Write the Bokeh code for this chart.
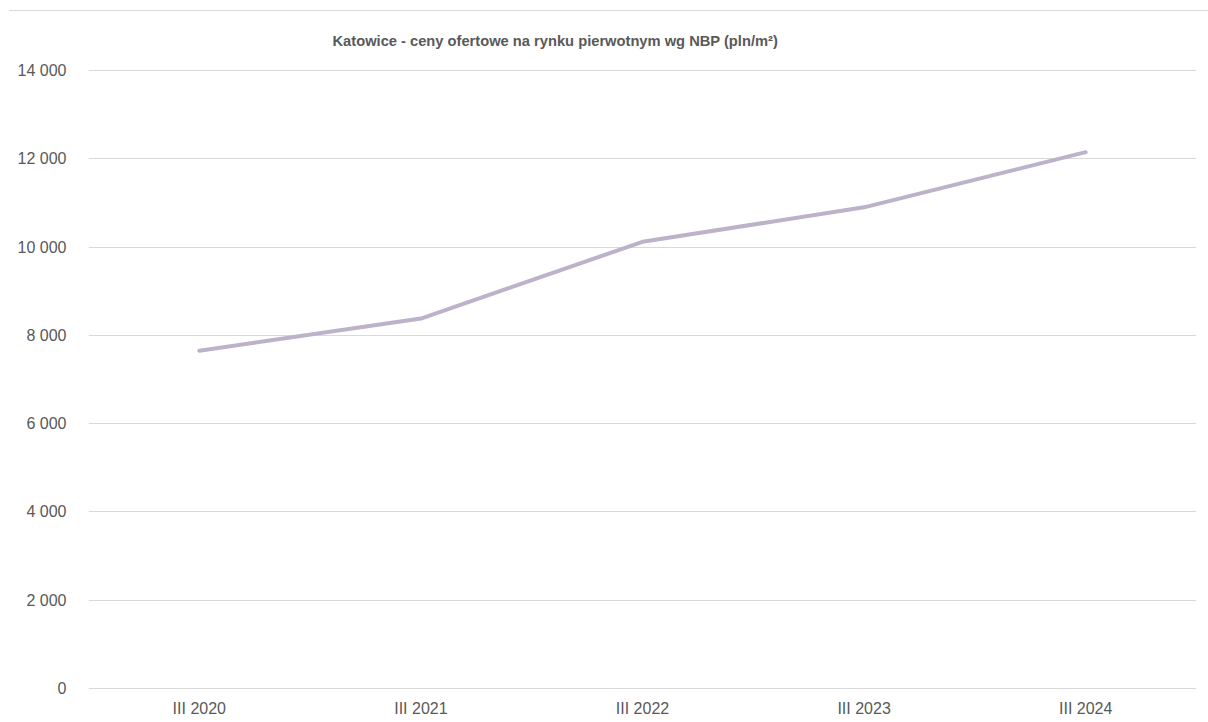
from bokeh.plotting import figure
from bokeh.models import FixedTicker, Range1d, FactorRange, Title, Div
from bokeh.layouts import column
from bokeh.embed import file_html
from bokeh.resources import INLINE

# Katowice, primary market asking prices (NBP), PLN per m²
periods = ["III 2020", "III 2021", "III 2022", "III 2023", "III 2024"]
price_per_m2 = [7650, 8380, 10120, 10900, 12150]

y_ticks = [0, 2000, 4000, 6000, 8000, 10000, 12000, 14000]
y_tick_labels = ["0", "2 000", "4 000", "6 000", "8 000", "10 000", "12 000", "14 000"]

title_text = "Katowice - ceny ofertowe na rynku pierwotnym wg NBP (pln/m²)"

FONT = "Liberation Sans"
TEXT_GREY = "#595959"
GRID_GREY = "#d9d9d9"
LINE_COLOR = "#bcb2c9"

p = figure(
    width=1208, height=711,
    x_range=FactorRange(*periods, range_padding=0),
    y_range=Range1d(-68, 14068),
    output_backend="svg", toolbar_location=None,
    min_border_left=88, min_border_right=12,
    min_border_top=56, min_border_bottom=31,
    outline_line_color=None,
    background_fill_color="white", border_fill_color="white",
)

p.add_layout(Title(
    text=title_text, align="left", offset=244, standoff=37,
    text_font=FONT, text_font_size="14.7px", text_font_style="bold",
    text_color=TEXT_GREY,
), "above")

p.line(periods, price_per_m2, line_color=LINE_COLOR, line_width=4,
       line_cap="round", line_join="round")

p.yaxis.ticker = FixedTicker(ticks=y_ticks)
p.yaxis.major_label_overrides = dict(zip(y_ticks, y_tick_labels))

for ax in (p.xaxis[0], p.yaxis[0]):
    ax.axis_line_color = None
    ax.major_tick_line_color = None
    ax.minor_tick_line_color = None
    ax.major_label_text_font = FONT
    ax.major_label_text_font_size = "16px"
    ax.major_label_text_color = TEXT_GREY

p.yaxis.major_label_standoff = 16
p.xaxis.major_label_standoff = 2

p.xgrid.grid_line_color = None
p.ygrid.grid_line_color = GRID_GREY
p.ygrid.grid_line_width = 1

top_rule = Div(text="", width=1199, height=1, margin=(10, 0, 0, 9),
               styles={"background-color": GRID_GREY})

layout = column(top_rule, p, spacing=0)

with open("out.html", "w") as f:
    f.write(file_html(layout, INLINE))
